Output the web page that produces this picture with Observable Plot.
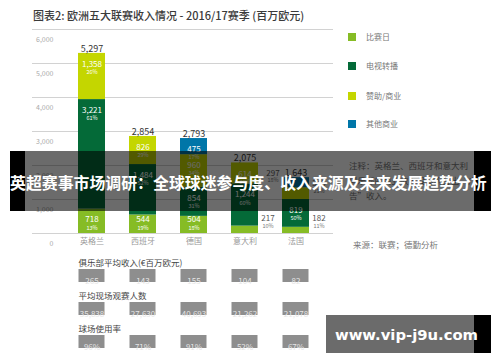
<!DOCTYPE html>
<html><head><meta charset="utf-8">
<script src="https://cdn.jsdelivr.net/npm/d3@7"></script>
<script src="https://cdn.jsdelivr.net/npm/@observablehq/plot@0.6"></script>
<style>
body{margin:0;background:#fff;}
#wrap{position:relative;width:500px;height:362px;overflow:hidden;font-family:"Noto Sans CJK SC","Noto Sans",sans-serif;}
#wrap svg{position:absolute;left:0;}
.abs{position:absolute;white-space:nowrap;}
</style></head>
<body><div id="wrap"></div>
<script>
// ---- data ----
const countries = ["英格兰","西班牙","德国","意大利","法国"];
const seriesNames = ["比赛日","电视转播","赞助/商业","其他商业"];
const matchday = [718,544,504,217,182];
const broadcast = [3221,1484,854,1244,819];
const sponsorship = [1358,826,960,614,345];
const otherCommercial = [0,0,475,0,297];
const matchdayPct = [13,19,18,10,11];
const broadcastPct = [61,52,31,60,50];
const sponsorshipPct = [26,29,34,30,21];
const otherPct = [0,0,17,0,18];
const totals = [5297,2854,2793,2075,1643];
const yTicks = [0,1000,2000,3000,4000,5000,6000];
const rowTitles = ["俱乐部平均收入(€百万欧元)","平均现场观赛人数","球场使用率"];
const avgRevenue = [265,143,155,104,82];
const avgAttendance = [35838,27630,40693,21262,21078];
const utilisation = [96,71,91,52,67];
const colors = ["#86bc25","#046a38","#c4d600","#0076a8"];

const fmt = d3.format(",");
const wrap = document.getElementById("wrap");

// stacked segments
const seriesVals = [matchday, broadcast, sponsorship, otherCommercial];
const seriesPcts = [matchdayPct, broadcastPct, sponsorshipPct, otherPct];
const segs = [];
countries.forEach((c, i) => {
  let base = 0;
  seriesVals.forEach((arr, s) => {
    const v = arr[i];
    if (!v) return;
    segs.push({country: c, series: seriesNames[s], s, value: v, pct: seriesPcts[s][i], y1: base, y2: base + v});
    base += v;
  });
});
const inside = segs.filter(d => d.value >= 400);
const insideMatch = inside.filter(d => d.s === 0);
const insideOther = inside.filter(d => d.s !== 0);
const outside = segs.filter(d => d.value < 400);
const outMatch = outside.filter(d => d.s === 0);
const outUpper = outside.filter(d => d.s !== 0);
const sideDx = d => d.s === 3 ? -23 : 23;

const xScale = {domain: countries, range: [66, 322], paddingInner: 0.47, paddingOuter: 0.235, axis: null};

const main = Plot.plot({
  width: 500, height: 250,
  marginTop: 29, marginBottom: 17, marginLeft: 32, marginRight: 167,
  x: xScale,
  y: {domain: [0, 6000], axis: null},
  color: {domain: seriesNames, range: colors},
  style: {fontFamily: "'Noto Sans CJK SC', 'Noto Sans', sans-serif", background: "transparent", overflow: "visible"},
  marks: [
    Plot.ruleY(yTicks, {stroke: "#d2d2d2", strokeWidth: 1}),
    Plot.text(yTicks, {y: d => d, text: d => fmt(d), frameAnchor: "left", textAnchor: "end", dx: 21, dy: 10, fontSize: 7, fill: "#aaa"}),
    Plot.text(countries, {x: d => d, text: d => d, frameAnchor: "bottom", dy: 10, fontSize: 8, fill: "#999"}),
    Plot.rectY(segs, {x: "country", y1: "y1", y2: "y2", fill: "series"}),
    Plot.text(countries, {x: d => d, y: (d, i) => totals[i], text: (d, i) => fmt(totals[i]), dy: -4.5, fontSize: 9, fill: "#333"}),
    Plot.text(insideOther, {x: "country", y: "y2", text: d => fmt(d.value), dy: 11, fontSize: 8, fill: "#fff"}),
    Plot.text(insideOther, {x: "country", y: "y2", text: d => d.pct + "%", dy: 19, fontSize: 5.5, fill: "#fff"}),
    Plot.text(insideMatch, {x: "country", y: "y1", text: d => fmt(d.value), dy: -14, fontSize: 8, fill: "#fff"}),
    Plot.text(insideMatch, {x: "country", y: "y1", text: d => d.pct + "%", dy: -5, fontSize: 5.5, fill: "#fff"}),
    Plot.text(outMatch, {x: "country", y: "y1", text: d => fmt(d.value), dx: sideDx(outMatch[0]), dy: -15, fontSize: 8, fill: "#555"}),
    Plot.text(outMatch, {x: "country", y: "y1", text: d => d.pct + "%", dx: 23, dy: -7, fontSize: 5.5, fill: "#777"}),
    Plot.text(outUpper.filter(d => d.s === 3), {x: "country", y: "y2", text: d => fmt(d.value), dx: -23, dy: -4, fontSize: 8, fill: "#555"}),
    Plot.text(outUpper.filter(d => d.s === 3), {x: "country", y: "y2", text: d => d.pct + "%", dx: -23, dy: 3, fontSize: 5.5, fill: "#777"}),
    Plot.text(outUpper.filter(d => d.s !== 3), {x: "country", y: "y2", text: d => fmt(d.value), dx: 23, dy: -4, fontSize: 8, fill: "#555"}),
    Plot.text(outUpper.filter(d => d.s !== 3), {x: "country", y: "y2", text: d => d.pct + "%", dx: 23, dy: 3, fontSize: 5.5, fill: "#777"})
  ]
});
main.style.top = "0px";
wrap.appendChild(main);

// bottom info rows
const rowLabels = [avgRevenue.map(String), avgAttendance.map(fmt), utilisation.map(v => v + "%")];
const cells = [];
rowTitles.forEach((r, ri) => countries.forEach((c, i) => cells.push({row: r, country: c, label: rowLabels[ri][i]})));

const bottom = Plot.plot({
  width: 500, height: 112,
  marginTop: 3, marginBottom: 8, marginLeft: 32, marginRight: 167,
  x: xScale,
  y: {domain: rowTitles, padding: 0, axis: null},
  style: {fontFamily: "'Noto Sans CJK SC', 'Noto Sans', sans-serif", background: "transparent", overflow: "visible"},
  marks: [
    Plot.cell(cells, {x: "country", y: "row", fill: "#8e8e8e", insetTop: 15, insetBottom: 5, insetLeft: 0.5, insetRight: 0.5}),
    Plot.text(cells, {x: "country", y: "row", text: "label", dy: 10, fontSize: 8, fill: "#e6e6e6"}),
    Plot.text(rowTitles, {x: () => countries[0], y: d => d, text: d => d, textAnchor: "start", dx: -13.5, dy: -8, fontSize: 8.5, fill: "#444"})
  ]
});
bottom.style.top = "250px";
wrap.appendChild(bottom);

// title
function addDiv(html, css) {
  const d = document.createElement("div");
  d.className = "abs";
  d.innerHTML = html;
  d.style.cssText += css;
  wrap.appendChild(d);
  return d;
}
addDiv("图表2: 欧洲五大联赛收入情况 - 2016/17赛季 (百万欧元)", "left:33px;top:7px;font-size:11px;line-height:16px;color:#3a3a3a;font-weight:500;");

// legend
const legendY = [37, 66, 96, 124];
seriesNames.forEach((n, i) => {
  addDiv("", `left:348px;top:${legendY[i] - 4}px;width:8px;height:8px;background:${colors[i]};`);
  addDiv(n, `left:366px;top:${legendY[i] - 6}px;font-size:8px;line-height:12px;color:#777;`);
});

// note & source
addDiv("注释：英格兰、西班牙和意大利<br>俱乐部的商业收入没有拆分出“广<br>告”收入。", "left:349px;top:158px;font-size:8.5px;line-height:15px;color:#777;");
addDiv("来源：联赛；德勤分析", "left:353px;top:238px;font-size:8.5px;line-height:12px;color:#777;");

// overlay banner
addDiv("", "left:10px;top:151px;width:481px;height:60px;background:rgba(0,0,0,0.58);");
addDiv("", "left:10px;top:151px;width:15px;height:60px;background:#000;");
addDiv("", "left:474px;top:151px;width:17px;height:60px;background:#000;");
addDiv("英超赛事市场调研：全球球迷参与度、收入来源及未来发展趋势分析", "left:10px;top:172px;font-size:15.9px;line-height:22px;color:#fff;font-weight:700;");

// watermark
addDiv("", "left:326px;top:315px;width:165px;height:38px;background:rgba(0,0,0,0.58);");
addDiv("", "left:474px;top:315px;width:17px;height:38px;background:#000;");
addDiv("www.vip-j9u.com", "left:335px;top:324px;font-family:'DejaVu Sans',sans-serif;font-size:14.8px;line-height:22px;color:#fff;font-weight:700;");
</script>
</body></html>
